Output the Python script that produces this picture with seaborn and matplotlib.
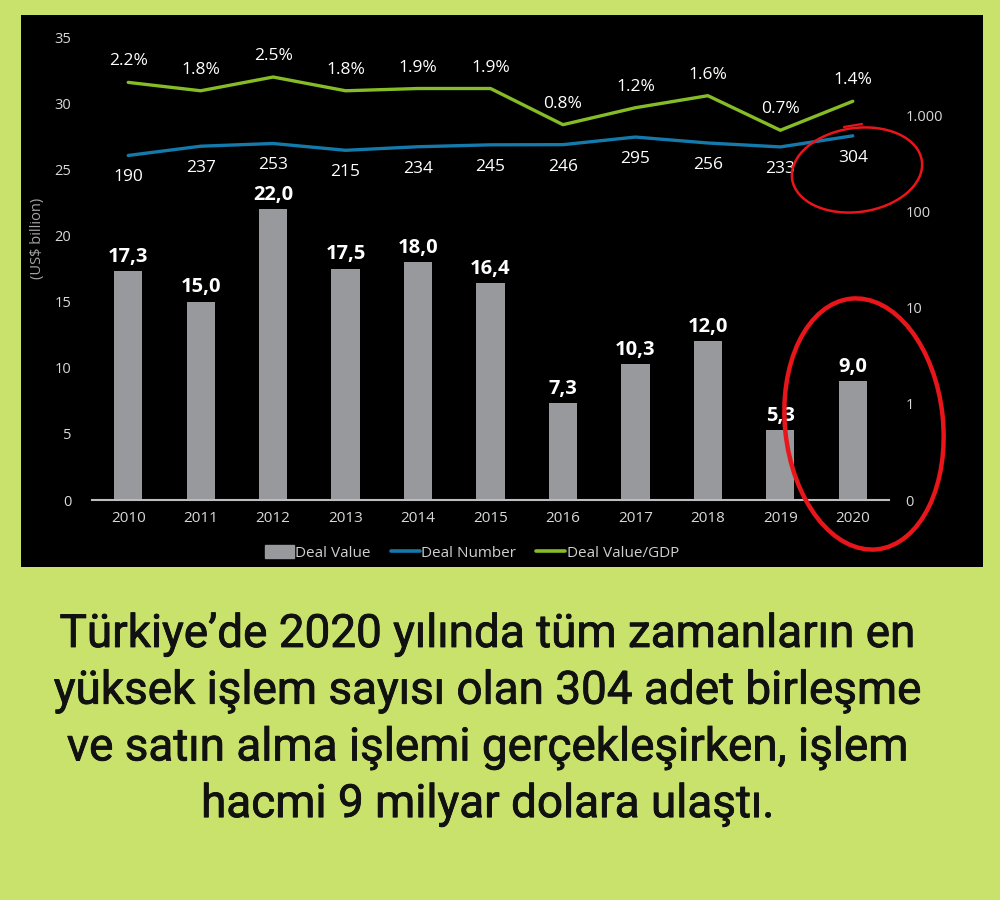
import matplotlib
matplotlib.use("Agg")
import matplotlib.pyplot as plt
import matplotlib.patheffects as pe
import numpy as np
import pandas as pd
import seaborn as sns
from matplotlib.patches import Ellipse, Rectangle
from matplotlib.lines import Line2D
from matplotlib.ticker import FixedLocator, NullLocator

years = ["2010", "2011", "2012", "2013", "2014", "2015", "2016", "2017", "2018", "2019", "2020"]
deal_value = [17.3, 15.0, 22.0, 17.5, 18.0, 16.4, 7.3, 10.3, 12.0, 5.3, 9.0]
deal_number = [190, 237, 253, 215, 234, 245, 246, 295, 256, 233, 304]
value_gdp = [2.2, 1.8, 2.5, 1.8, 1.9, 1.9, 0.8, 1.2, 1.6, 0.7, 1.4]
right_ticks = [0.1, 1, 10, 100, 1000]
right_labels = ["0", "1", "10", "100", "1.000"]
caption = [
    "Türkiye’de 2020 yılında tüm zamanların en",
    "yüksek işlem sayısı olan 304 adet birleşme",
    "ve satın alma işlemi gerçekleşirken, işlem",
    "hacmi 9 milyar dolara ulaştı.",
]

BG = "#c9e26b"
GRAY = "#98999c"
BLUE = "#1479ab"
GREEN = "#86bc25"
TICK = "#d9d9d9"

sns.set_style("white")
plt.rcParams["font.family"] = ["Open Sans", "DejaVu Sans"]

df = pd.DataFrame({"year": years, "value": deal_value, "number": deal_number, "gdp": value_gdp})
df["pos"] = np.arange(len(df))

fig = plt.figure(figsize=(10, 9), dpi=100, facecolor=BG)
fig.add_artist(Rectangle((0.021, 0.37), 0.962, 0.6133, transform=fig.transFigure,
                         facecolor="black", edgecolor="none", zorder=0))

ax = fig.add_axes([0.092, 0.4444, 0.797, 0.5144])
ax.set_facecolor("none")
sns.barplot(data=df, x="year", y="value", color=GRAY, width=0.39, saturation=1,
            edgecolor="none", linewidth=0, ax=ax)
ax.set_xlim(-0.5, len(years) - 0.5)
ax.set_ylim(0, 35)
ax.set_yticks(range(0, 36, 5))
ax.set_xlabel("")
ax.set_ylabel("")
for s in ["top", "right", "left"]:
    ax.spines[s].set_visible(False)
ax.spines["bottom"].set_color("#bdbdbd")
ax.spines["bottom"].set_linewidth(1.5)
ax.tick_params(axis="y", length=0, pad=15, labelsize=10.5, labelcolor=TICK)
ax.tick_params(axis="x", which="major", length=0, pad=8, labelsize=11, labelcolor=TICK)
ax.xaxis.set_minor_locator(FixedLocator(np.arange(-0.5, len(years), 1)))
ax.tick_params(axis="x", which="minor", direction="inout", length=9, width=1.3, color="#bdbdbd")
ax.bar_label(ax.containers[0], labels=[f"{v:.1f}".replace(".", ",") for v in deal_value],
             padding=3, color="white", fontsize=14.5, fontweight="bold")

# right log axis (ticks only)
ax_r = ax.twinx()
ax_r.set_yscale("log")
ax_r.set_ylim(0.1, 6450)
ax_r.yaxis.set_major_locator(FixedLocator(right_ticks))
ax_r.yaxis.set_minor_locator(NullLocator())
ax_r.set_yticklabels(right_labels)
ax_r.tick_params(axis="y", length=0, pad=12, labelsize=10.5, labelcolor=TICK)
for s in ax_r.spines.values():
    s.set_visible(False)

# deal number line
ax_n = ax.twinx()
ax_n.set_yscale("log")
ax_n.set_ylim(0.05, 3225)
sns.lineplot(data=df, x="pos", y="number", color=BLUE, linewidth=2.4, ax=ax_n)
ax_n.set_axis_off()
for p, n in zip(df["pos"], deal_number):
    ax_n.annotate(str(n), (p, n), xytext=(0, -22), textcoords="offset pixels",
                  ha="center", va="center", color="white", fontsize=12.5)

# deal value / GDP line
ax_g = ax.twinx()
ax_g.set_yscale("log")
ax_g.set_ylim(1.01e-4, 6.5)
sns.lineplot(data=df, x="pos", y="gdp", color=GREEN, linewidth=2.4, ax=ax_g)
ax_g.set_axis_off()
for p, g in zip(df["pos"], value_gdp):
    ax_g.annotate(f"{g}%", (p, g), xytext=(0, 21), textcoords="offset pixels",
                  ha="center", va="center", color="white", fontsize=12.5)
ax_g.set_xlim(-0.5, len(years) - 0.5)

fig.text(0.038, 1 - 238 / 900, "(US$ billion)", rotation=90, ha="center", va="center",
         color="#a5a5a5", fontsize=10.5)

handles = [Rectangle((0, 0), 1, 1, color=GRAY),
           Line2D([], [], color=BLUE, lw=2.6),
           Line2D([], [], color=GREEN, lw=2.6)]
fig.legend(handles, ["Deal Value", "Deal Number", "Deal Value/GDP"], loc="center",
           bbox_to_anchor=(0.472, 1 - 553 / 900), ncol=3, frameon=False,
           fontsize=11, labelcolor="#d0d0d0", handlelength=1.9, handletextpad=0.1,
           columnspacing=1.3, handleheight=0.9)

# hand-drawn red marks
fig.add_artist(Ellipse((8.57, 9 - 1.70), 1.31, 0.84, angle=8, transform=fig.dpi_scale_trans,
                       fill=False, edgecolor="#e8161b", linewidth=1.8, zorder=10))
fig.add_artist(Line2D([8.44, 8.62], [9 - 1.27, 9 - 1.24], transform=fig.dpi_scale_trans,
                      color="#e8161b", linewidth=1.6, zorder=10))
fig.add_artist(Ellipse((8.64, 9 - 4.24), 1.58, 2.52, angle=6, transform=fig.dpi_scale_trans,
                       fill=False, edgecolor="#e8161b", linewidth=3.2, zorder=10))

for i, line in enumerate(caption):
    fig.text(0.488, 1 - (634 + 56.7 * i) / 900, line, ha="center", va="center",
             fontsize=33, fontweight="normal", family=["Roboto", "DejaVu Sans"], color="#111111",
             path_effects=[pe.withStroke(linewidth=0.6, foreground="#111111")])

fig.savefig("out.png", dpi=100, facecolor=BG)
